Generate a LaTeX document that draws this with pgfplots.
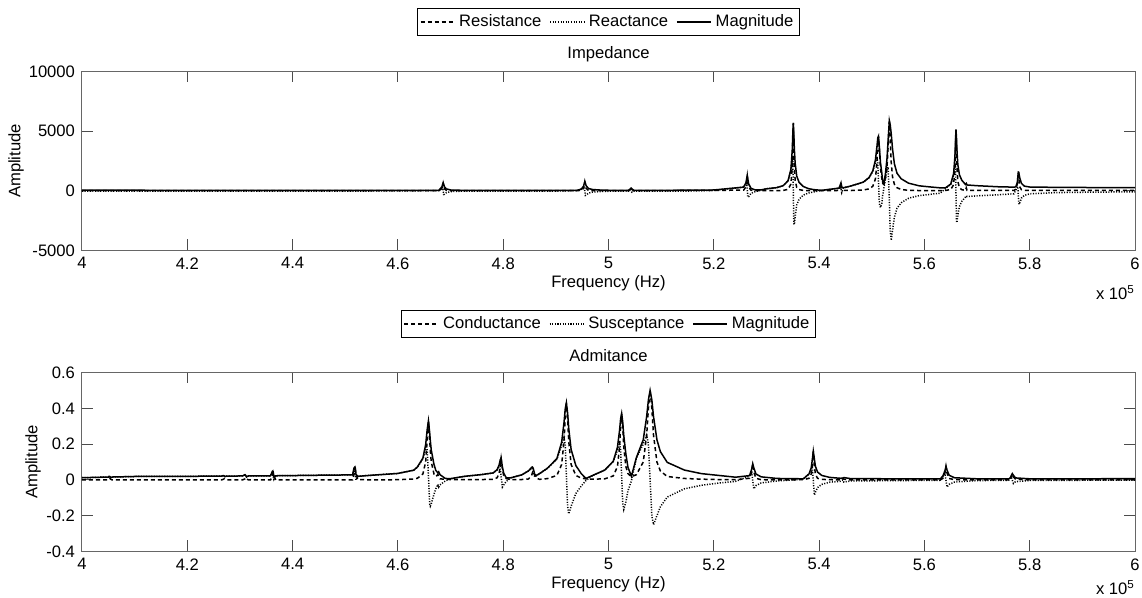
\documentclass[border=0pt]{standalone}
\usepackage{fontspec}
\setmainfont{Liberation Sans}
\usepackage{pgfplots}
\usepackage{pgfplotstable}
\pgfplotsset{compat=1.18}
\newcommand\ff{\fontsize{8.3}{10}\selectfont}

\pgfplotstableread{
f R X M
4.000 20 -30 50
4.100 20 -30 50
4.200 20 -20 40
4.300 20 -20 40
4.400 20 -20 40
4.500 20 -20 40
4.600 20 -10 40
4.678 25 20 45
4.6835 172 286 334
4.685 449 300 540
4.686 650 0 650
4.687 449 -300 540
4.6885 172 -286 334
4.692 38 -153 158
4.701 10 -64 65
4.720 20 -30 45
4.900 20 -20 40
4.940 20 20 40
4.948 34 130 134
4.9525 206 313 375
4.954 538 330 631
4.955 760 -30 760
4.956 538 -390 665
4.9575 206 -373 426
4.962 34 -190 193
4.970 10 -107 107
4.990 20 -40 50
5.038 20 -20 40
5.0415 115 115 163
5.043 230 0 230
5.0445 115 -115 163
5.048 20 -30 40
5.150 30 -20 50
5.200 40 30 70
5.2566 55 306 311
5.2611 330 600 685
5.2626 862 627 1066
5.2636 1250 50 1251
5.2646 862 -527 1010
5.2661 330 -500 599
5.2706 55 -206 213
5.2786 12 -74 75
5.290 10 60 80
5.300 10 170 170
5.320 10 270 270
5.332 35 440 440
5.341 125 836 845
5.3465 569 1707 1799
5.349 2048 2731 3414
5.350 3926 2630 4725
5.351 5690 -100 5690
5.352 3926 -2730 4782
5.353 2048 -2831 3494
5.3545 882 -2160 2333
5.3575 288 -1200 1234
5.362 104 -700 708
5.370 35 -360 362
5.380 20 -180 181
5.390 15 -90 100
5.405 15 30 40
5.425 20 150 150
5.438 30 220 222
5.440 250 400 470
5.4416 650 150 667
5.443 250 -150 292
5.446 40 250 253
5.460 25 398 399
5.484 71 726 729
5.495 162 1104 1116
5.502 380 1633 1677
5.507 1000 2380 2582
5.510 2450 2860 3766
5.5115 3813 2292 4449
5.5128 4521 736 4581
5.5145 3475 -1080 3639
5.5165 1926 -1400 2381
5.519 1080 -1100 1541
5.521 600 -300 671
5.523 550 200 585
5.526 1043 989 1437
5.529 2005 1839 2721
5.531 3650 2010 4167
5.5334 5841 -720 5885
5.535 4470 -3300 5556
5.537 2380 -4150 4784
5.5395 1160 -3300 3498
5.543 545 -2200 2266
5.548 260 -1450 1473
5.556 110 -1000 1006
5.570 40 -620 640
5.590 25 -400 420
5.610 20 -300 330
5.630 20 -200 250
5.640 29 184 250
5.650 113 554 565
5.6555 513 1339 1434
5.658 1847 2262 2920
5.659 3540 2170 4152
5.660 5130 -200 5134
5.661 3540 -2570 4375
5.662 1847 -2662 3240
5.6635 795 -2057 2205
5.6665 260 -1323 1348
5.671 94 -887 892
5.678 40 -520 530
5.6795 250 -420 620
5.681 40 -480 490
5.700 30 -420 430
5.740 30 -330 340
5.770 30 -250 310
5.7735 131 50 330
5.7765 586 369 693
5.7777 1253 213 1271
5.7784 1530 -375 1575
5.7792 1193 -1008 1562
5.7799 765 -1140 1373
5.7814 306 -987 1033
5.7844 90 -600 620
5.790 30 -380 390
5.800 30 -250 320
5.850 30 -150 290
5.900 30 -120 280
6.000 30 -80 260
}\imp

\pgfplotstableread{
f G B M
4.000 0 0.012 0.012
4.050 0 0.016 0.016
4.0515 0.004 0.020 0.020
4.053 0.008 0.016 0.018
4.0545 0.004 0.012 0.013
4.057 0 0.016 0.016
4.100 0 0.019 0.019
4.200 0 0.020 0.020
4.265 0 0.021 0.021
4.2685 0.003 0.024 0.024
4.270 0.006 0.021 0.022
4.2715 0.003 0.018 0.018
4.274 0 0.021 0.021
4.305 0 0.022 0.022
4.3095 0.006 0.028 0.029
4.311 0.012 0.022 0.025
4.3125 0.006 0.016 0.017
4.316 0 0.022 0.022
4.358 0 0.023 0.023
4.3615 0.020 0.043 0.047
4.363 0.040 0.023 0.046
4.3645 0.020 0.003 0.020
4.368 0 0.023 0.023
4.450 0 0.026 0.026
4.514 0 0.028 0.028
4.5165 0.030 0.058 0.065
4.518 0.048 0.052 0.071
4.519 0.060 0.028 0.066
4.5205 0.030 -0.002 0.030
4.524 0.002 0.020 0.020
4.550 0 0.026 0.026
4.600 0.001 0.036 0.036
4.630 0.005 0.054 0.054
4.637 0.009 0.071 0.072
4.6475 0.033 0.117 0.122
4.6528 0.102 0.170 0.198
4.6556 0.221 0.173 0.281
4.658 0.330 0.018 0.330
4.6605 0.221 -0.137 0.260
4.6615 0.165 -0.147 0.221
4.6633 0.102 -0.134 0.168
4.6685 0.033 -0.081 0.087
4.672 0.019 -0.050 0.053
4.676 0.030 -0.025 0.039
4.6775 0.020 -0.040 0.045
4.680 0.006 -0.028 0.029
4.690 0.003 -0.006 0.008
4.700 0.002 0.006 0.007
4.727 0.001 0.020 0.020
4.760 0.002 0.030 0.030
4.781 0.003 0.039 0.039
4.7885 0.012 0.056 0.057
4.7923 0.037 0.075 0.084
4.7943 0.081 0.076 0.111
4.796 0.120 0.020 0.122
4.7985 0.060 -0.040 0.072
4.801 0.024 -0.028 0.037
4.806 0.007 -0.008 0.011
4.815 0.002 0.012 0.012
4.835 0.002 0.028 0.028
4.848 0.005 0.050 0.050
4.854 0.025 0.065 0.070
4.8555 0.040 0.060 0.072
4.857 0.050 0.041 0.065
4.860 0.025 0.017 0.030
4.863 0.010 0.023 0.025
4.869 0.003 0.035 0.035
4.884 0.007 0.065 0.065
4.902 0.025 0.116 0.119
4.911 0.086 0.192 0.210
4.9155 0.215 0.237 0.320
4.9178 0.344 0.197 0.396
4.920 0.430 0.025 0.431
4.9223 0.344 -0.147 0.374
4.9245 0.215 -0.190 0.287
4.929 0.086 -0.147 0.170
4.938 0.025 -0.076 0.080
4.948 0.010 -0.035 0.036
4.957 0.006 -0.004 0.008
4.970 0.004 0.025 0.025
4.993 0.006 0.055 0.055
5.009 0.022 0.102 0.104
5.017 0.074 0.166 0.182
5.021 0.185 0.205 0.276
5.023 0.296 0.168 0.340
5.025 0.370 0.020 0.371
5.027 0.296 -0.128 0.323
5.029 0.185 -0.165 0.248
5.033 0.074 -0.123 0.144
5.037 0.035 -0.060 0.070
5.0435 0.018 -0.005 0.020
5.053 0.029 0.122 0.125
5.066 0.100 0.200 0.224
5.0725 0.250 0.250 0.354
5.0758 0.400 0.200 0.447
5.079 0.500 0.000 0.500
5.0823 0.400 -0.200 0.447
5.0855 0.250 -0.250 0.354
5.092 0.100 -0.200 0.224
5.0985 0.050 -0.150 0.158
5.1115 0.019 -0.096 0.098
5.144 0.008 -0.050 0.055
5.1765 0.004 -0.030 0.035
5.209 0.002 -0.018 0.025
5.2415 0.001 -0.008 0.015
5.268 0.009 0.022 0.024
5.272 0.045 0.040 0.060
5.274 0.090 -0.005 0.090
5.276 0.045 -0.050 0.067
5.280 0.009 -0.032 0.033
5.290 0.001 -0.017 0.017
5.320 0 -0.006 0.008
5.370 0.001 0.004 0.006
5.381 0.009 0.033 0.034
5.385 0.032 0.059 0.067
5.387 0.080 0.075 0.110
5.389 0.160 -0.005 0.160
5.391 0.080 -0.085 0.117
5.393 0.032 -0.069 0.076
5.397 0.009 -0.043 0.044
5.405 0.003 -0.025 0.025
5.420 0.001 -0.013 0.014
5.440 0 -0.008 0.009
5.445 0.008 0.000 0.010
5.447 0.004 -0.012 0.013
5.460 0 -0.006 0.007
5.550 0 -0.004 0.006
5.630 0 -0.002 0.005
5.635 0.008 0.020 0.021
5.639 0.038 0.035 0.051
5.641 0.075 -0.003 0.075
5.643 0.038 -0.040 0.055
5.647 0.008 -0.025 0.026
5.657 0.001 -0.012 0.012
5.700 0 -0.004 0.006
5.760 0 -0.002 0.005
5.763 0.004 0.010 0.011
5.765 0.017 0.016 0.024
5.767 0.035 -0.002 0.035
5.769 0.017 -0.020 0.026
5.773 0.004 -0.010 0.011
5.800 0 -0.003 0.006
5.900 0 -0.002 0.006
6.000 0 -0.002 0.007
}\adm

\pgfplotsset{
 mat/.style={
  scale only axis, width=526.5pt, height=89.5pt,
  xmin=4, xmax=6,
  xtick={4,4.2,4.4,4.6,4.8,5,5.2,5.4,5.6,5.8,6},
  xticklabels={4,4.2,4.4,4.6,4.8,5,5.2,5.4,5.6,5.8,6},
  scaled ticks=false,
  tick align=inside, major tick length=5.5pt,
  axis line style={black!60, line width=0.5pt},
  every tick/.style={black!70, line width=0.5pt},
  tick label style={font=\ff, text=black},
  xlabel={Frequency (Hz)},
  ylabel={Amplitude},
  every axis x label/.style={at={(0.5,-0.184)}, anchor=center, font=\ff},
  every axis title/.style={at={(0.5,1.097)}, anchor=center, font=\ff},
  legend columns=3,
  legend style={font=\ff, draw=black, line width=0.5pt, inner xsep=1pt, inner ysep=1pt,
     /tikz/every even column/.append style={column sep=2pt}},
  legend image code/.code={\draw[#1] (0pt,0pt) -- (17pt,0pt);},
  every axis plot/.append style={line width=0.75pt, black},
 },
 rdash/.style={dash pattern=on 2pt off 1.5pt},
 rdot/.style={dash pattern=on 0.55pt off 0.75pt},
}

\begin{document}
\begin{tikzpicture}
\useasboundingbox (0,0) rectangle (571pt,299pt);
\begin{axis}[mat, name=zax, at={(41pt,173.75pt)}, anchor=south west,
  ymin=-5000, ymax=10000,
  ytick={-5000,0,5000,10000}, yticklabels={-5000,0,5000,10000},
  title={Impedance},
  every axis y label/.style={at={(-0.0627,0.5)}, rotate=90, anchor=center, font=\ff},
  legend style={at={(0.5,1.277)}, anchor=center}]
\addplot[rdash] table[x=f,y=R]{\imp};
\addplot[rdot] table[x=f,y=X]{\imp};
\addplot[solid] table[x=f,y=M]{\imp};
\legend{Resistance,Reactance,Magnitude}
\end{axis}
\node[anchor=base east, font=\ff] at ([xshift=3.5pt,yshift=-24.5pt]zax.south east) {x 10\textsuperscript{5}};

\begin{axis}[mat, name=yax, at={(41pt,23.25pt)}, anchor=south west,
  ymin=-0.4, ymax=0.6,
  ytick={-0.4,-0.2,0,0.2,0.4,0.6}, yticklabels={-0.4,-0.2,0,0.2,0.4,0.6},
  title={Admitance},
  every axis y label/.style={at={(-0.0465,0.5)}, rotate=90, anchor=center, font=\ff},
  legend style={at={(0.5,1.271)}, anchor=center}]
\addplot[rdash] table[x=f,y=G]{\adm};
\addplot[rdot] table[x=f,y=B]{\adm};
\addplot[solid] table[x=f,y=M]{\adm};
\legend{Conductance,Susceptance,Magnitude}
\end{axis}
\node[anchor=base east, font=\ff] at ([xshift=3.5pt,yshift=-21.5pt]yax.south east) {x 10\textsuperscript{5}};
\end{tikzpicture}
\end{document}
